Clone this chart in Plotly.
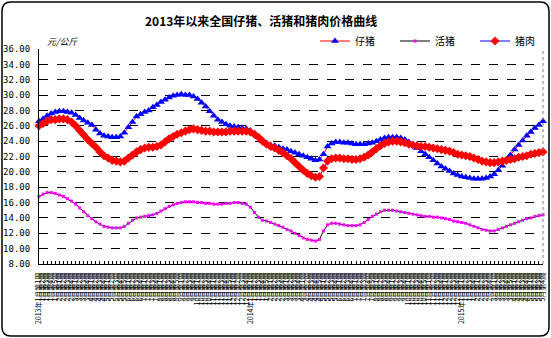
import plotly.graph_objects as go

# ---- data ----
years = [2013, 2014, 2015]
weeks_per_month = {
    2013: [5, 4, 4, 4, 5, 4, 4, 5, 4, 4, 5, 4],
    2014: [5, 4, 4, 5, 4, 4, 5, 4, 4, 5, 4, 4],
    2015: [4, 4, 5, 4, 4],
}

piglet = [26.6, 26.9, 27.3, 27.6, 27.8, 27.9, 27.9, 27.8, 27.7, 27.4,
          27.0, 26.7, 26.4, 26.1, 25.5, 25.0, 24.7, 24.6, 24.5, 24.5,
          24.6, 25.1, 25.8, 26.5, 27.2, 27.5, 27.8, 28.0, 28.4, 28.7,
          29.1, 29.4, 29.7, 29.9, 30.0, 30.1, 30.0, 30.0, 29.8, 29.5,
          29.0, 28.5, 27.9, 27.3, 26.8, 26.5, 26.2, 26.0, 25.9, 25.8,
          25.7, 25.6, 25.4, 25.0, 24.5, 24.0, 23.7, 23.5, 23.4, 23.2,
          23.0, 22.9, 22.7, 22.5, 22.3, 22.1, 21.9, 21.7, 21.5, 21.6,
          22.3, 23.3, 23.7, 23.9, 23.9, 23.8, 23.8, 23.7, 23.6, 23.6,
          23.6, 23.7, 23.8, 24.0, 24.2, 24.4, 24.5, 24.5, 24.5, 24.4,
          24.2, 23.9, 23.5, 23.1, 22.7, 22.3, 21.9, 21.5, 21.1, 20.7,
          20.4, 20.1, 19.8, 19.6, 19.4, 19.3, 19.2, 19.1, 19.1, 19.1,
          19.2, 19.4, 19.7, 20.2, 20.8, 21.5, 22.2, 22.9, 23.5, 24.1,
          24.7, 25.2, 25.7, 26.1, 26.6]

live_hog = [16.8, 17.1, 17.3, 17.3, 17.2, 17.0, 16.8, 16.5, 16.2, 15.8,
            15.3, 14.8, 14.3, 13.9, 13.5, 13.2, 12.9, 12.8, 12.7, 12.7,
            12.7, 12.9, 13.3, 13.7, 14.0, 14.1, 14.2, 14.3, 14.4, 14.6,
            14.9, 15.2, 15.5, 15.7, 15.9, 16.0, 16.1, 16.1, 16.1, 16.0,
            16.0, 15.9, 15.9, 15.8, 15.8, 15.8, 15.9, 15.9, 16.0, 16.0,
            15.9, 15.8, 15.4, 14.7, 14.1, 13.7, 13.6, 13.4, 13.2, 13.0,
            12.8, 12.5, 12.3, 12.0, 11.7, 11.4, 11.2, 11.1, 11.0, 11.2,
            12.3, 13.1, 13.3, 13.3, 13.2, 13.1, 13.0, 13.0, 13.0, 13.1,
            13.4, 13.8, 14.2, 14.5, 14.8, 15.0, 15.0, 15.0, 14.9, 14.8,
            14.7, 14.6, 14.5, 14.4, 14.3, 14.2, 14.2, 14.1, 14.1, 14.0,
            13.9, 13.8, 13.6, 13.5, 13.4, 13.3, 13.1, 12.9, 12.7, 12.5,
            12.4, 12.3, 12.3, 12.5, 12.7, 12.9, 13.1, 13.3, 13.5, 13.7,
            13.9, 14.0, 14.2, 14.3, 14.4]

pork = [26.0, 26.3, 26.6, 26.8, 26.8, 26.9, 26.9, 26.8, 26.5, 26.0,
        25.4, 24.8, 24.2, 23.7, 23.2, 22.6, 22.1, 21.8, 21.5, 21.4,
        21.3, 21.4, 21.8, 22.2, 22.6, 22.9, 23.1, 23.2, 23.2, 23.3,
        23.5, 23.9, 24.3, 24.6, 24.9, 25.1, 25.3, 25.5, 25.6, 25.5,
        25.4, 25.3, 25.3, 25.2, 25.2, 25.2, 25.2, 25.3, 25.3, 25.3,
        25.3, 25.3, 25.2, 24.9, 24.5, 24.0, 23.6, 23.3, 23.1, 22.8,
        22.5, 22.1, 21.7, 21.2, 20.7, 20.2, 19.8, 19.5, 19.3, 19.4,
        20.5, 21.4, 21.7, 21.8, 21.8, 21.7, 21.7, 21.6, 21.6, 21.7,
        21.9, 22.2, 22.6, 23.0, 23.4, 23.7, 23.9, 24.0, 24.0, 23.9,
        23.8, 23.6, 23.5, 23.4, 23.3, 23.3, 23.2, 23.1, 23.0, 22.9,
        22.8, 22.7, 22.5, 22.3, 22.2, 22.1, 22.0, 21.8, 21.6, 21.4,
        21.3, 21.2, 21.2, 21.3, 21.4, 21.5, 21.6, 21.7, 21.9, 22.0,
        22.1, 22.3, 22.4, 22.5, 22.6]

# ---- category labels ----
labels = []
for y in years:
    first = True
    for m, n in enumerate(weeks_per_month[y], start=1):
        for w in range(1, n + 1):
            txt = f"{m}月第{w}周"
            if first:
                txt = f"{y}年" + txt
                first = False
            labels.append(txt)

cats = list(range(len(labels)))

# ---- layout geometry ----
W, H = 551, 338
ML, MR, MT, MB = 39, 8, 49, 74
PW, PH = W - ML - MR, H - MT - MB


def px(x):
    return (x - ML) / PW


def py(y):
    return 1 - (y - MT) / PH


FONT = "Noto Sans CJK SC"

fig = go.Figure()
fig.add_trace(go.Scatter(
    x=cats, y=piglet, name="仔猪", mode="lines+markers",
    line=dict(color="#ff0000", width=1),
    marker=dict(symbol="triangle-up", color="#0000ff", size=7),
    cliponaxis=False))
fig.add_trace(go.Scatter(
    x=cats, y=live_hog, name="活猪", mode="lines+markers",
    line=dict(color="#000000", width=1),
    marker=dict(symbol="square", color="#ff00ff", size=3),
    cliponaxis=False))
fig.add_trace(go.Scatter(
    x=cats, y=pork, name="猪肉", mode="lines+markers",
    line=dict(color="#0000ff", width=1),
    marker=dict(symbol="diamond", color="#ff0000", size=7),
    cliponaxis=False))

# rounded outer border
x0, x1, y0, y1, r = 2, 549, 2, 336, 9
path = (f"M {px(x0 + r)},{py(y0)} L {px(x1 - r)},{py(y0)} "
        f"Q {px(x1)},{py(y0)} {px(x1)},{py(y0 + r)} "
        f"L {px(x1)},{py(y1 - r)} Q {px(x1)},{py(y1)} {px(x1 - r)},{py(y1)} "
        f"L {px(x0 + r)},{py(y1)} Q {px(x0)},{py(y1)} {px(x0)},{py(y1 - r)} "
        f"L {px(x0)},{py(y0 + r)} Q {px(x0)},{py(y0)} {px(x0 + r)},{py(y0)} Z")

fig.update_layout(
    width=W, height=H,
    margin=dict(l=ML, r=MR, t=MT, b=MB, pad=0, autoexpand=False),
    paper_bgcolor="white", plot_bgcolor="white",
    font=dict(family=FONT, color="black"),
    showlegend=True,
    legend=dict(orientation="h", x=px(315), y=py(41), xanchor="left",
                yanchor="middle", font=dict(size=10, family=FONT),
                bgcolor="rgba(0,0,0,0)", entrywidth=35, entrywidthmode="pixels",
                itemwidth=30, tracegroupgap=0),
    shapes=[
        dict(type="path", xref="paper", yref="paper", path=path,
             line=dict(color="black", width=1.5), layer="below"),
        dict(type="line", xref="paper", yref="paper", x0=1, x1=1, y0=0, y1=1,
             line=dict(color="#808080", width=1, dash="dot")),
    ],
    annotations=[
        dict(text="<b>2013年以来全国仔猪、活猪和猪肉价格曲线</b>", xref="paper",
             yref="paper", x=px(261), y=py(20), showarrow=False,
             font=dict(size=12, family=FONT), xanchor="center", yanchor="middle"),
        dict(text="<i>元/公斤</i>", xref="paper", yref="paper", x=px(45), y=py(41),
             showarrow=False, font=dict(size=9, family=FONT),
             xanchor="left", yanchor="middle"),
    ],
)

fig.update_xaxes(
    type="linear", range=[0, len(labels) - 1],
    tickmode="array", tickvals=cats, ticktext=labels,
    tickangle=-90, tickfont=dict(size=7, family=FONT),
    showline=True, linecolor="black", linewidth=1,
    ticks="inside", ticklen=3, tickcolor="black", tickwidth=1,
    showgrid=False, zeroline=False, automargin=False, ticklabelstandoff=5,
)
fig.update_yaxes(
    range=[8, 36], dtick=2, tick0=8, tickformat=".2f",
    tickfont=dict(size=9, family="DejaVu Sans Mono"),
    showline=True, linecolor="black", linewidth=1,
    showgrid=True, gridcolor="black", griddash="dash", gridwidth=1,
    zeroline=False, ticks="", ticklabelstandoff=6, automargin=False,
)

fig.write_html("out.html")
